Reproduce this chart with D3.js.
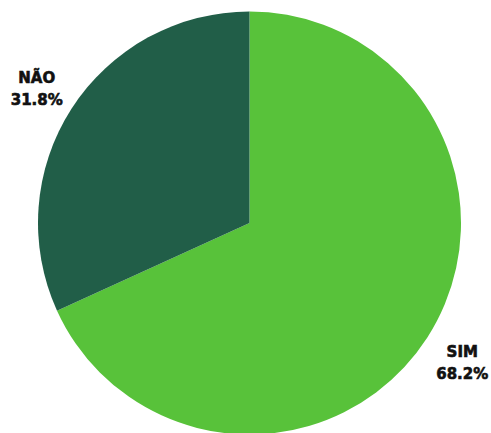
<!DOCTYPE html>
<html>
<head>
<meta charset="utf-8">
<script src="https://cdn.jsdelivr.net/npm/d3@7"></script>
<style>
  html, body { margin: 0; padding: 0; background: #ffffff; }
  svg { display: block; }
  .lbl { font-family: "DejaVu Sans", sans-serif; font-weight: bold; font-size: 15px; fill: #111111; stroke: #111111; stroke-width: 0.6px; }
</style>
</head>
<body>
<svg id="chart" width="491" height="433"></svg>
<script>
// Answer categories and their shares (%)
const categories = ["SIM", "NÃO"];
const values = [68.2, 31.8];
const colors = ["#58c23a", "#215e48"];

const width = 491, height = 433;
const cx = 249.5, cy = 223, radius = 211.5;
const labelRadius = 253;

const svg = d3.select("#chart");
const g = svg.append("g").attr("transform", `translate(${cx},${cy})`);

const pie = d3.pie().sort(null).value(d => d.value);
const data = categories.map((c, i) => ({ name: c, value: values[i], color: colors[i] }));
const arcs = pie(data);

const arc = d3.arc().innerRadius(0).outerRadius(radius);
const labelArc = d3.arc().innerRadius(labelRadius).outerRadius(labelRadius);

g.selectAll("path.slice")
  .data(arcs)
  .join("path")
  .attr("class", "slice")
  .attr("d", arc)
  .attr("fill", d => d.data.color);

const labels = g.selectAll("text.lbl")
  .data(arcs)
  .join("text")
  .attr("class", "lbl")
  .attr("text-anchor", "middle")
  .attr("transform", d => {
    const [x, y] = labelArc.centroid(d);
    return `translate(${x},${y})`;
  });

labels.append("tspan")
  .attr("x", 0)
  .attr("dy", "-0.2em")
  .text(d => d.data.name);

labels.append("tspan")
  .attr("x", 0)
  .attr("dy", "1.45em")
  .text(d => d.data.value.toFixed(1) + "%");
</script>
</body>
</html>
